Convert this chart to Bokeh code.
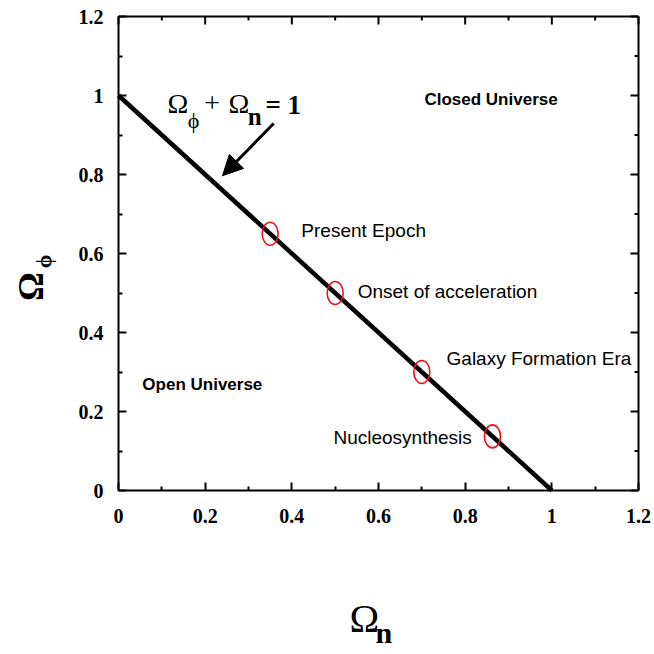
import math
from bokeh.plotting import figure
from bokeh.models import (LinearAxis, FixedTicker, NumeralTickFormatter, Label,
                          Arrow, NormalHead, ColumnDataSource, Range1d)
from bokeh.embed import file_html
from bokeh.resources import INLINE

# ---- data ----
epochs = ["Present Epoch", "Onset of acceleration", "Galaxy Formation Era", "Nucleosynthesis"]
omega_n = [0.35, 0.50, 0.70, 0.863]
omega_phi = [0.65, 0.50, 0.30, 0.137]
line_n = [0.0, 1.0]
line_phi = [1.0, 0.0]
major_ticks = [0, 0.2, 0.4, 0.6, 0.8, 1.0, 1.2]
minor_ticks = [0.1, 0.3, 0.5, 0.7, 0.9, 1.1]
region_labels = ["Closed Universe", "Open Universe"]

# ---- layout: data box 0..1.2 sits at px x 118..638, y 490..16 of a 654 canvas ----
W = H = 654
X0_PX, X1_PX = 118, 638
Y0_PX, Y1_PX = 490, 16
lo, hi = major_ticks[0], major_ticks[-1]
xs = (X1_PX - X0_PX) / (hi - lo)
ys = (Y0_PX - Y1_PX) / (hi - lo)
x_range = Range1d(lo - X0_PX / xs, hi + (W - X1_PX) / xs)
y_range = Range1d(lo - (H - Y0_PX) / ys, hi + Y1_PX / ys)

# ---- label placement (data coords: left edge / vertical middle) ----
epoch_label_pos = [(0.422, 0.657), (0.552, 0.505), (0.757, 0.333), (0.496, 0.133)]
region_label_pos = [(0.706, 0.989), (0.055, 0.268)]

p = figure(width=W, height=H, output_backend="svg", toolbar_location=None,
           x_range=x_range, y_range=y_range,
           x_axis_type=None, y_axis_type=None, min_border=0)
p.xgrid.visible = False
p.ygrid.visible = False
p.outline_line_color = None
p.background_fill_color = "white"
p.border_fill_color = "white"

ticker = FixedTicker(ticks=major_ticks, minor_ticks=minor_ticks)


def make_axis():
    ax = LinearAxis(ticker=ticker, formatter=NumeralTickFormatter(format="0.[0]"),
                    fixed_location=0, bounds=(lo, hi))
    ax.axis_line_color = "black"
    ax.axis_line_width = 2
    ax.major_tick_in = 8
    ax.major_tick_out = 0
    ax.minor_tick_in = 4
    ax.minor_tick_out = 0
    ax.major_tick_line_width = 2
    ax.minor_tick_line_width = 2
    ax.major_label_text_font = "Liberation Serif"
    ax.major_label_text_font_style = "bold"
    ax.major_label_text_color = "black"
    ax.major_label_text_font_size = "20px"
    return ax

xb = make_axis()
xb.major_label_standoff = 18
yl = make_axis()
yl.major_label_standoff = 15
p.add_layout(xb, "below")
p.add_layout(yl, "left")

# top and right frame sides with inward ticks
p.line([lo, hi], [hi, hi], line_color="black", line_width=2)
p.line([hi, hi], [lo, hi], line_color="black", line_width=2)
p.ray(x=major_ticks, y=[hi] * len(major_ticks), length=8, length_units="screen",
      angle=-math.pi / 2, line_color="black", line_width=2)
p.ray(x=minor_ticks, y=[hi] * len(minor_ticks), length=4, length_units="screen",
      angle=-math.pi / 2, line_color="black", line_width=2)
p.ray(x=[hi] * len(major_ticks), y=major_ticks, length=8, length_units="screen",
      angle=math.pi, line_color="black", line_width=2)
p.ray(x=[hi] * len(minor_ticks), y=minor_ticks, length=4, length_units="screen",
      angle=math.pi, line_color="black", line_width=2)

# line Omega_phi + Omega_n = 1
p.line(line_n, line_phi, line_color="black", line_width=4.5)

# epoch markers
src = ColumnDataSource(dict(x=omega_n, y=omega_phi, name=epochs))
p.ellipse(x="x", y="y", width=16, height=23, width_units="screen", height_units="screen",
          source=src, fill_color=None, line_color="#e8141c", line_width=1.6)

for name, (lx, ly) in zip(epochs, epoch_label_pos):
    p.add_layout(Label(x=lx, y=ly, text=name, text_font="Liberation Sans",
                       text_font_size="19px", text_color="black",
                       text_baseline="middle", text_align="left"))

for name, (lx, ly) in zip(region_labels, region_label_pos):
    p.add_layout(Label(x=lx, y=ly, text=name, text_font="Liberation Sans",
                       text_font_style="bold", text_font_size="17px", text_color="black",
                       text_baseline="middle", text_align="left"))

# equation label
serif = "Liberation Serif"
eq_parts = [
    ("Ω", 0.113, 0.980, "28px", "normal", "left"),
    ("ϕ", 0.173, 0.937, "22px", "normal", "center"),
    ("+", 0.198, 0.980, "28px", "normal", "left"),
    ("Ω", 0.254, 0.980, "28px", "normal", "left"),
    ("n", 0.298, 0.948, "25px", "bold", "left"),
    ("= 1", 0.339, 0.975, "27px", "bold", "left"),
]
for t, lx, ly, fs, st, al in eq_parts:
    p.add_layout(Label(x=lx, y=ly, text=t, text_font=serif, text_font_size=fs,
                       text_font_style=st, text_color="black",
                       text_baseline="middle", text_align=al))

p.add_layout(Arrow(end=NormalHead(size=20, fill_color="black", line_color="black"),
                   x_start=0.358, y_start=0.929, x_end=0.240, y_end=0.797,
                   line_width=3, line_color="black"))

# axis titles
p.add_layout(Label(x=0.533, y=-0.323, text="Ω", text_font=serif, text_font_size="40px",
                   text_color="black", text_baseline="middle", text_align="left"))
p.add_layout(Label(x=0.593, y=-0.359, text="n", text_font=serif, text_font_size="30px",
                   text_font_style="bold", text_color="black",
                   text_baseline="middle", text_align="left"))

p.add_layout(Label(x=-0.203, y=0.516, text="Ω", text_font=serif, text_font_size="36px",
                   text_font_style="bold", text_color="black", angle=math.pi / 2,
                   text_baseline="middle", text_align="center"))
p.add_layout(Label(x=-0.173, y=0.58, text="ϕ", text_font=serif, text_font_size="22px",
                   text_font_style="bold", text_color="black", angle=math.pi / 2,
                   text_baseline="middle", text_align="center"))

open("out.html", "w").write(file_html(p, INLINE))
